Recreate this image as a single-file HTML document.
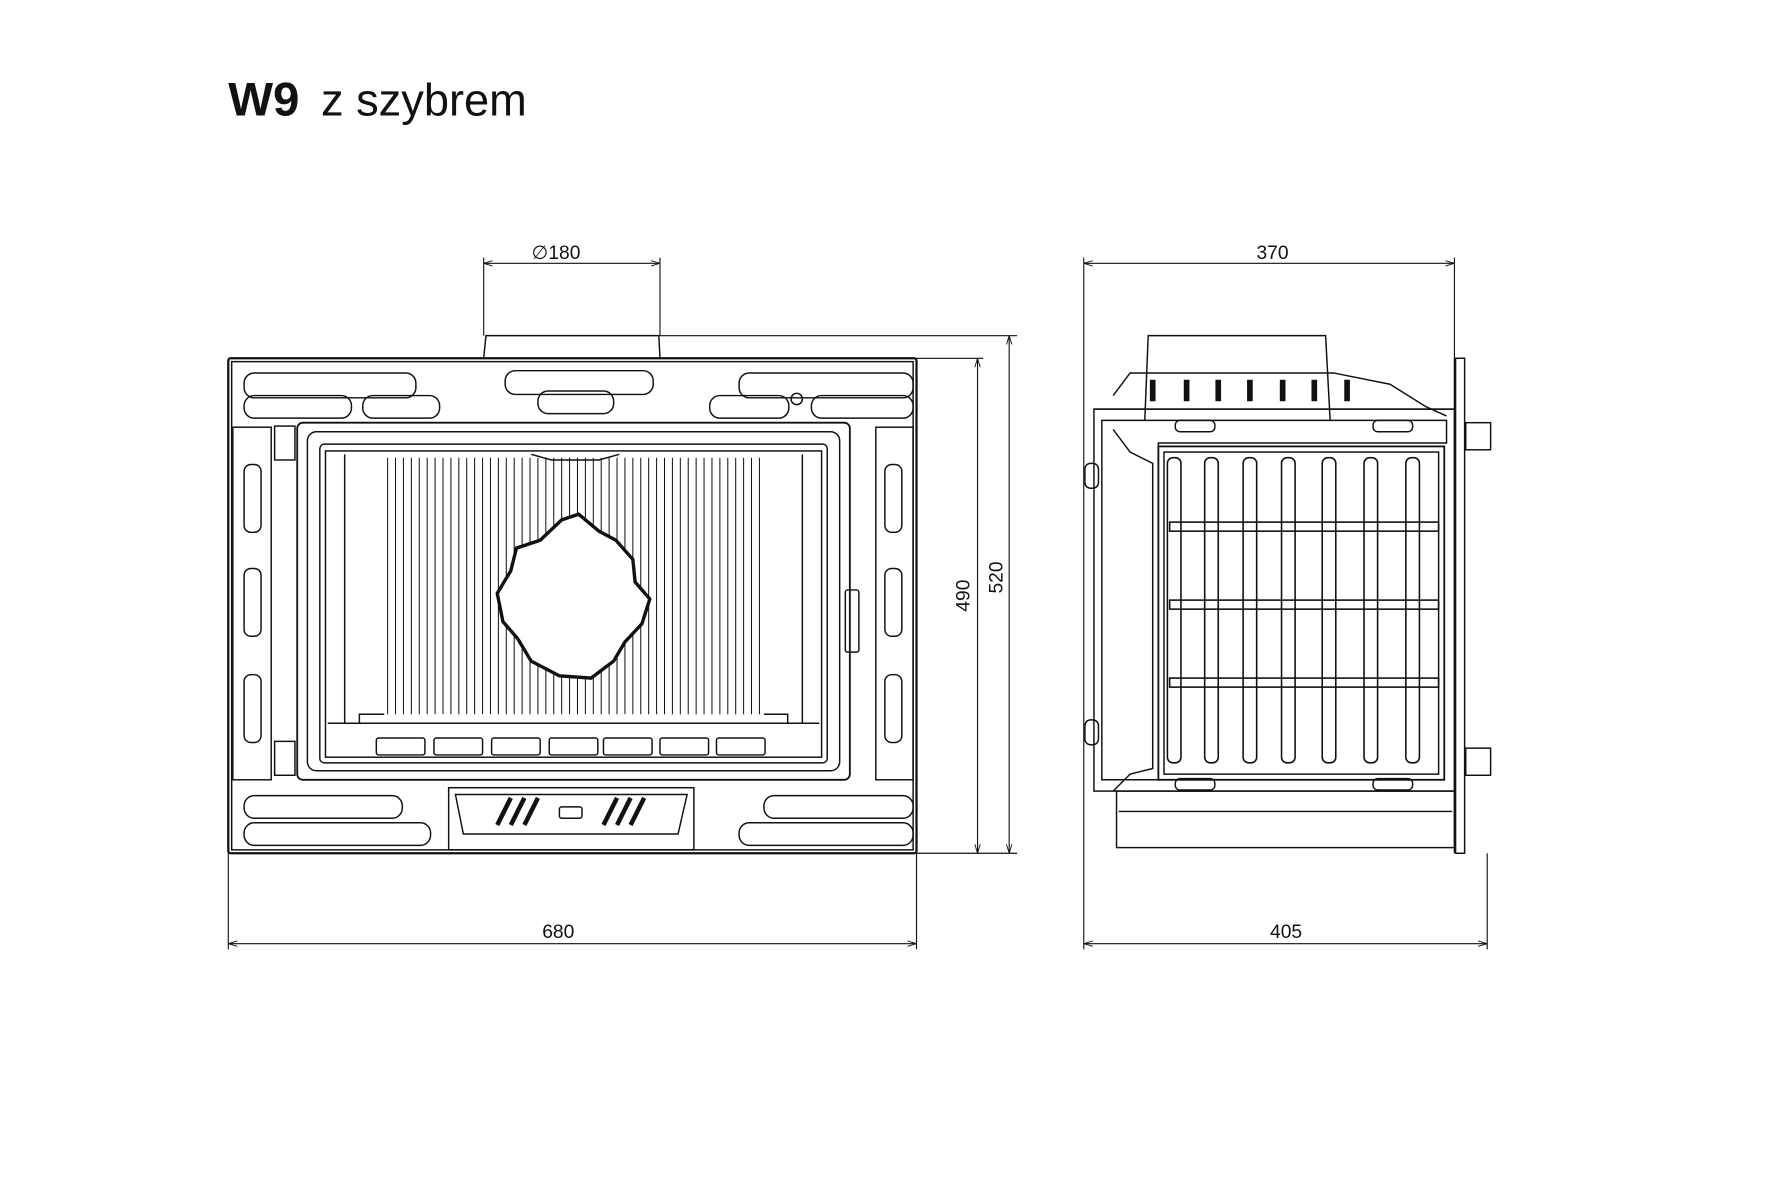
<!DOCTYPE html>
<html><head><meta charset="utf-8"><style>
html,body{margin:0;padding:0;background:#fff}
svg{display:block}
text{font-family:"Liberation Sans",sans-serif;fill:#111}
</style></head><body>
<svg width="1772" height="1181" viewBox="0 0 1568 1045" xmlns="http://www.w3.org/2000/svg">
<defs>
<marker id="a" viewBox="0 0 10 10" refX="10" refY="5" markerWidth="8" markerHeight="8" orient="auto-start-reverse"><path d="M0,2 L10,5 L0,8" fill="none" stroke="#111" stroke-width="1"/></marker>
</defs>
<text x="202" y="102" font-size="42" font-weight="bold">W9</text>
<text x="284" y="102" font-size="40">z szybrem</text>

<g stroke="#111" fill="none" stroke-width="1">
<!-- dimensions front -->
<line x1="428" y1="233" x2="584" y2="233" marker-start="url(#a)" marker-end="url(#a)"/>
<line x1="428" y1="228" x2="428" y2="297"/><line x1="584" y1="228" x2="584" y2="297"/>
<line x1="584" y1="297" x2="900" y2="297"/>
<line x1="811" y1="317" x2="870" y2="317"/>
<line x1="811" y1="755" x2="900" y2="755"/>
<line x1="865" y1="317" x2="865" y2="755" marker-start="url(#a)" marker-end="url(#a)"/>
<line x1="893" y1="297" x2="893" y2="755" marker-start="url(#a)" marker-end="url(#a)"/>
<line x1="202" y1="835" x2="811" y2="835" marker-start="url(#a)" marker-end="url(#a)"/>
<line x1="202" y1="755" x2="202" y2="840"/><line x1="811" y1="755" x2="811" y2="840"/>
<!-- dimensions side -->
<line x1="959" y1="233" x2="1287" y2="233" marker-start="url(#a)" marker-end="url(#a)"/>
<line x1="959" y1="228" x2="959" y2="840"/><line x1="1287" y1="228" x2="1287" y2="317"/>
<line x1="959" y1="835" x2="1316" y2="835" marker-start="url(#a)" marker-end="url(#a)"/>
<line x1="1316" y1="755" x2="1316" y2="840"/>
</g>
<text x="492" y="229" font-size="17" text-anchor="middle">∅180</text>
<text x="494" y="830" font-size="17" text-anchor="middle">680</text>
<text x="1126" y="229" font-size="17" text-anchor="middle">370</text>
<text x="1138" y="830" font-size="17" text-anchor="middle">405</text>
<text x="858" y="527" font-size="17" text-anchor="middle" transform="rotate(-90 858 527)">490</text>
<text x="887" y="511" font-size="17" text-anchor="middle" transform="rotate(-90 887 511)">520</text>

<!-- FRONT VIEW -->
<g stroke="#111" fill="none" stroke-width="1.3">
<path d="M428,317 L430,297 L583,297 L584,317"/>
<rect x="202" y="317" width="609" height="438" rx="2" stroke-width="2"/>
<rect x="205" y="320" width="603" height="432"/>
<!-- top slots -->
<rect x="216" y="330" width="152" height="22" rx="9"/>
<rect x="216" y="350" width="95" height="20" rx="9"/>
<rect x="321" y="350" width="68" height="20" rx="9"/>
<rect x="447" y="328" width="131" height="21" rx="9"/>
<rect x="476" y="346" width="67" height="20" rx="9"/>
<rect x="654" y="330" width="154" height="22" rx="9"/>
<rect x="628" y="350" width="70" height="20" rx="9"/>
<rect x="718" y="350" width="90" height="20" rx="9"/>
<circle cx="705" cy="353" r="5"/>
<!-- side panels -->
<rect x="206" y="378" width="34" height="312"/>
<rect x="775" y="378" width="33" height="312"/>
<rect x="216" y="411" width="15" height="60" rx="6"/><rect x="216" y="503" width="15" height="60" rx="6"/><rect x="216" y="597" width="15" height="60" rx="6"/>
<rect x="783" y="411" width="15" height="60" rx="6"/><rect x="783" y="503" width="15" height="60" rx="6"/><rect x="783" y="597" width="15" height="60" rx="6"/>
<rect x="243" y="377" width="18" height="30"/><rect x="243" y="656" width="18" height="30"/>
<!-- door -->
<rect x="263" y="374" width="489" height="316" rx="5" stroke-width="1.6"/>
<rect x="272" y="382" width="471" height="300" rx="8"/>
<rect x="283" y="393" width="449" height="282" rx="4"/>
<rect x="288" y="399" width="439" height="271"/>
<path d="M470,402 L488,407 L530,407 L548,402"/>
<path d="M305,402 L305,640 M710,402 L710,640"/>
<path d="M318,640 L318,632 L340,632 M697,640 L697,632 L676,632"/>
<line x1="290" y1="640" x2="725" y2="640"/>
<rect x="748" y="522" width="12" height="55" rx="2"/>
<!-- bricks -->
<rect x="333" y="653" width="43" height="15" rx="2"/><rect x="384" y="653" width="43" height="15" rx="2"/><rect x="435" y="653" width="43" height="15" rx="2"/><rect x="486" y="653" width="43" height="15" rx="2"/><rect x="534" y="653" width="43" height="15" rx="2"/><rect x="584" y="653" width="43" height="15" rx="2"/><rect x="634" y="653" width="43" height="15" rx="2"/>
<!-- bottom -->
<rect x="216" y="704" width="140" height="20" rx="9"/>
<rect x="216" y="728" width="165" height="20" rx="9"/>
<rect x="676" y="704" width="132" height="20" rx="9"/>
<rect x="654" y="728" width="154" height="20" rx="9"/>
<rect x="397" y="697" width="217" height="55"/>
<path d="M403,703 L608,703 L600,738 L410,738 Z"/>
<rect x="495" y="714" width="20" height="10" rx="2"/>
<path d="M440,730 L452,706 M452,730 L464,706 M464,730 L476,706 M534,730 L546,706 M546,730 L558,706 M558,730 L570,706" stroke-width="4"/>
</g>
<!-- vertical fire sticks -->
<g stroke="#111" stroke-width="0.9">
<path d="M343,405V632M350,405V632M357,405V632M364,405V632M371,405V632M378,405V632M385,405V632M392,405V632M399,405V632M406,405V632M413,405V632M420,405V632M427,405V632M434,405V632M441,405V632M448,405V632M455,405V632M462,405V632M469,405V632M476,405V632M483,405V632M490,405V632M497,405V632M504,405V632M511,405V632M518,405V632M525,405V632M532,405V632M539,405V632M546,405V632M553,405V632M560,405V632M567,405V632M574,405V632M581,405V632M588,405V632M595,405V632M602,405V632M609,405V632M616,405V632M623,405V632M630,405V632M637,405V632M644,405V632M651,405V632M658,405V632M665,405V632M672,405V632"/>
</g>
<path d="M497,460 L512,455 L530,470 L545,478 L560,495 L562,515 L575,530 L568,552 L553,568 L543,585 L523,600 L495,598 L470,585 L458,565 L445,550 L440,525 L452,505 L457,485 L478,478 Z" fill="#fff" stroke="#111" stroke-width="3"/>

<!-- SIDE VIEW -->
<g stroke="#111" fill="none" stroke-width="1.3">
<path d="M1013,372 L1016,297 L1173,297 L1177,372"/>
<line x1="1287" y1="317" x2="1287" y2="755"/>
<rect x="1288" y="317" width="8" height="438"/>
<rect x="1297" y="374" width="22" height="24"/><rect x="1297" y="662" width="22" height="24"/>
<path d="M985,350 L1000,330 L1180,330 L1230,340 L1262,360 L1280,368"/>
<line x1="968" y1="362" x2="1287" y2="362"/>
<rect x="968" y="362" width="319" height="338"/>
<path d="M975,372 L1280,372 L1280,392 L1025,392 L1025,690 L975,690 Z"/>
<path d="M985,380 L1000,400 L1020,410 L1020,680 L1000,685 L985,700"/>
<rect x="1025" y="395" width="253" height="295" stroke-width="1.6"/>
<rect x="1030" y="400" width="243" height="285"/>
<rect x="960" y="410" width="12" height="22" rx="5"/>
<rect x="960" y="637" width="12" height="22" rx="5"/>
<rect x="1040" y="372" width="35" height="10" rx="4"/><rect x="1215" y="372" width="35" height="10" rx="4"/>
<rect x="1040" y="689" width="35" height="10" rx="4"/><rect x="1215" y="689" width="35" height="10" rx="4"/>
<rect x="988" y="700" width="299" height="50"/>
<line x1="990" y1="718" x2="1285" y2="718"/>
<path d="M1020,336 V355 M1050,336 V355 M1078,336 V355 M1106,336 V355 M1135,336 V355 M1163,336 V355 M1192,336 V355" stroke-width="5"/>
</g>
<g stroke="#111" fill="none" stroke-width="1.4">
<rect x="1033" y="405" width="12" height="270" rx="5"/><rect x="1066" y="405" width="12" height="270" rx="5"/><rect x="1100" y="405" width="12" height="270" rx="5"/><rect x="1134" y="405" width="12" height="270" rx="5"/><rect x="1170" y="405" width="12" height="270" rx="5"/><rect x="1207" y="405" width="12" height="270" rx="5"/><rect x="1244" y="405" width="12" height="270" rx="5"/>
<rect x="1035" y="462" width="238" height="8"/><rect x="1035" y="531" width="238" height="8"/><rect x="1035" y="600" width="238" height="8"/>
</g>
</svg>
</body></html>
